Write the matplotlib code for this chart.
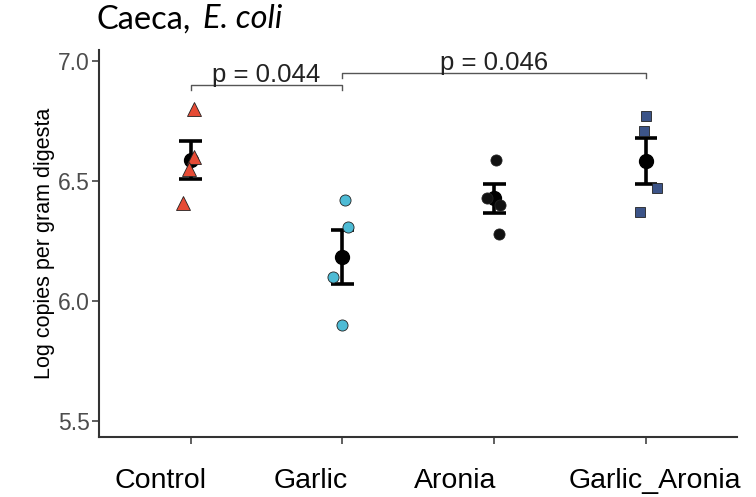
import matplotlib
matplotlib.use("Agg")
import matplotlib.pyplot as plt
import matplotlib.transforms as mtransforms
import numpy as np

# groups and read-off values
groups = ["Control", "Garlic", "Aronia", "Garlic_Aronia"]
control_vals = [6.80, 6.60, 6.55, 6.41]
garlic_vals = [6.42, 6.31, 6.10, 5.90]
aronia_vals = [6.59, 6.43, 6.40, 6.28]
garlic_aronia_vals = [6.77, 6.71, 6.47, 6.37]

# horizontal jitter of the individual points (in category units)
control_jit = [0.02, 0.02, -0.01, -0.05]
garlic_jit = [0.02, 0.04, -0.06, 0.0]
aronia_jit = [0.01, -0.05, 0.04, 0.03]
garlic_aronia_jit = [0.0, -0.01, 0.07, -0.04]

means = [6.59, 6.183, 6.43, 6.583]
err_low = [6.508, 6.07, 6.367, 6.488]
err_high = [6.667, 6.296, 6.49, 6.68]

comparisons = [(1, 2, 6.90, "p = 0.044"), (2, 4, 6.95, "p = 0.046")]

y_ticks = [5.5, 6.0, 6.5, 7.0]


def main():
    fig = plt.figure(figsize=(7.56, 4.97), dpi=100)
    ax = fig.add_axes([0.1316, 0.1207, 0.8434, 0.7783])

    styles = [
        dict(marker="^", color="#E64B35", ms=10),
        dict(marker="o", color="#4DBBD5", ms=8),
        dict(marker="o", color="#111111", ms=8),
        dict(marker="s", color="#3C5488", ms=7.5),
    ]
    series = [control_vals, garlic_vals, aronia_vals, garlic_aronia_vals]
    jitters = [control_jit, garlic_jit, aronia_jit, garlic_aronia_jit]

    xs = np.arange(1, len(groups) + 1)
    for i, x in enumerate(xs):
        ax.vlines(x, err_low[i], err_high[i], color="black", lw=2.6, zorder=2)
        ax.hlines([err_low[i], err_high[i]], x - 0.075, x + 0.075,
                  color="black", lw=2.6, zorder=2)
        ax.plot(x, means[i], "o", color="black", ms=10, zorder=3)

    for i, x in enumerate(xs):
        st = styles[i]
        ax.plot(x + np.array(jitters[i]), series[i], linestyle="none",
                marker=st["marker"], ms=st["ms"], markerfacecolor=st["color"],
                markeredgecolor="#222222", markeredgewidth=0.6, zorder=4)

    # significance brackets
    for x0, x1, y, label in comparisons:
        ax.plot([x0, x0, x1, x1], [y - 0.018, y, y, y - 0.018],
                color="#555555", lw=1.0, zorder=1)
        ax.text((x0 + x1) / 2, y + 0.012, label, ha="center", va="baseline",
                fontsize=18.5, color="#222222", family="Liberation Sans")

    ax.set_xlim(0.4, 4.6)
    ax.set_ylim(5.433, 7.046)
    ax.set_xticks(xs)
    ax.set_xticklabels(groups, fontsize=20.5, family="Liberation Sans", color="black")
    ax.set_yticks(y_ticks)
    ax.set_yticklabels([f"{t:.1f}" for t in y_ticks], fontsize=16.5,
                       family="Liberation Sans", color="#4d4d4d")
    ax.tick_params(axis="both", length=5, width=1.2, color="#444444")
    ax.tick_params(axis="x", pad=17)
    ax.tick_params(axis="y", pad=2)
    ax.set_ylabel("Log copies per gram digesta", fontsize=15.5,
                  family="Liberation Sans", labelpad=2)

    # the category labels in the source sit a little off their ticks
    shifts_px = [-30, -32, -39, 9]
    for lab, dx in zip(ax.get_xticklabels(), shifts_px):
        lab.set_transform(lab.get_transform() +
                          mtransforms.ScaledTranslation(dx / 100, 0, fig.dpi_scale_trans))

    for side in ["top", "right"]:
        ax.spines[side].set_visible(False)
    for side in ["left", "bottom"]:
        ax.spines[side].set_color("#333333")
        ax.spines[side].set_linewidth(1.5)

    fig.text(97 / 756, 1 - 28.5 / 497, "Caeca,", fontsize=23.5, family="Lato",
             va="baseline", ha="left")
    fig.text(203 / 756, 1 - 28.5 / 497, "E. coli", fontsize=23.5,
             family="Lato", style="italic", va="baseline", ha="left")

    fig.savefig("out.png", dpi=100)


if __name__ == "__main__":
    main()
